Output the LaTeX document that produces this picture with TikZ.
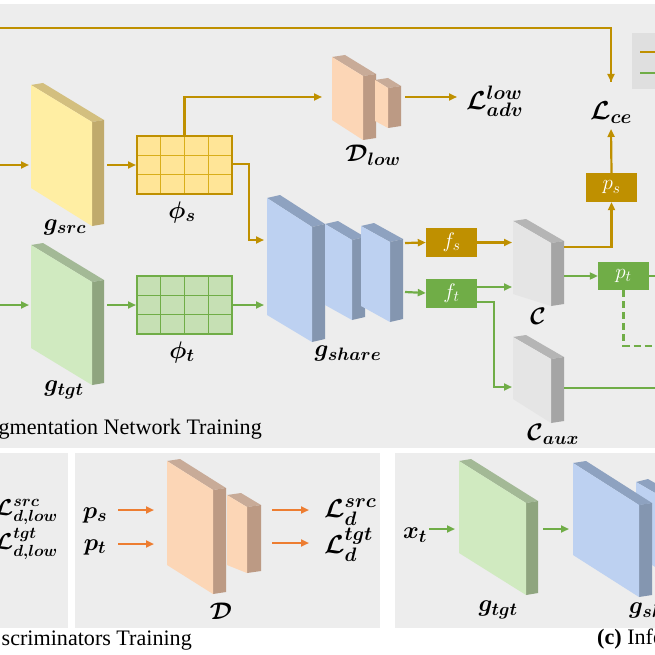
\RequirePackage{fix-cm}
\documentclass[tikz,border=0pt]{standalone}
\usepackage{fontspec}
\setmainfont{Liberation Serif}
\usepackage{amsmath,bm}
\DeclareMathSizes{24}{24}{18}{14}
\DeclareMathSizes{26}{26}{19.5}{15}
\DeclareMathSizes{21}{21}{15.5}{12}
\usetikzlibrary{arrows.meta,calc}
\definecolor{gold}{HTML}{BF9000}
\definecolor{grn}{HTML}{70AD47}
\definecolor{orng}{HTML}{ED7D31}
\definecolor{panel}{HTML}{EDEDED}
\definecolor{legendbg}{HTML}{DFDFDF}
\definecolor{ylwF}{HTML}{FFEEA3}\definecolor{ylwT}{HTML}{D3BF7F}\definecolor{ylwS}{HTML}{C0AA6C}
\definecolor{grnF}{HTML}{D0EAC0}\definecolor{grnT}{HTML}{A3B996}\definecolor{grnS}{HTML}{8FA57F}
\definecolor{bluF}{HTML}{BDD1F1}\definecolor{bluT}{HTML}{8EA2C0}\definecolor{bluS}{HTML}{8496B0}
\definecolor{peaF}{HTML}{FCD6B6}\definecolor{peaT}{HTML}{C8AB98}\definecolor{peaS}{HTML}{BC9A84}
\definecolor{gryF}{HTML}{E5E5E5}\definecolor{gryT}{HTML}{B5B5B5}\definecolor{gryS}{HTML}{A5A5A5}
\definecolor{phisF}{HTML}{FFE597}\definecolor{phisL}{HTML}{D9AE1A}
\definecolor{phitF}{HTML}{C6E0B4}
\newcommand{\myslab}[8]{%
  \fill[#7] (#1) -- ($(#1)+(#5)$) -- ($(#2)+(#5)$) -- (#2) -- cycle;
  \fill[#8] (#2) -- ($(#2)+(#5)$) -- ($(#3)+(#5)$) -- (#3) -- cycle;
  \fill[#6] (#1) -- (#2) -- (#3) -- (#4) -- cycle;}
\tikzset{
  arrtip/.style={-{Triangle[length=8pt,width=7pt]}},
  gl/.style={draw=gold,line width=2.2pt},
  ga/.style={gl,arrtip},
  grl/.style={draw=grn,line width=2.2pt},
  gra/.style={grl,arrtip},
  oa/.style={draw=orng,line width=2.2pt,arrtip},
  lab/.style={inner sep=0pt,font=\fontsize{24}{28}\selectfont},
  biglab/.style={inner sep=0pt,font=\fontsize{26}{30}\selectfont},
  smlab/.style={inner sep=0pt,font=\fontsize{23}{27}\selectfont},
  captxt/.style={inner sep=0pt,font=\fontsize{22.1}{26}\selectfont},
  fbox/.style={inner sep=0pt,minimum width=51pt,minimum height=29pt,text=white,font=\fontsize{21}{24}\selectfont},
  gridbox/.style={inner sep=0pt,minimum width=95pt,minimum height=58pt,line width=2pt,
    path picture={
      \foreach \i in {1,2,3}
        \draw[#1] ($(path picture bounding box.north west)!\i/4!(path picture bounding box.north east)$)
          -- ($(path picture bounding box.south west)!\i/4!(path picture bounding box.south east)$);
      \foreach \j in {1,2}
        \draw[#1] ($(path picture bounding box.north west)!\j/3!(path picture bounding box.south west)$)
          -- ($(path picture bounding box.north east)!\j/3!(path picture bounding box.south east)$);
    }},
}
\begin{document}
\begin{tikzpicture}[x=1pt,y=-1pt]
\clip (0,0) rectangle (655,655);
\fill[white] (0,0) rectangle (655,655);
% panels
\fill[panel] (0,4) rectangle (655,448);
\fill[panel] (0,453) rectangle (68,628);
\fill[panel] (75,453) rectangle (380,628);
\fill[panel] (395,453) rectangle (655,628);
\fill[legendbg] (632,33) rectangle (655,89);
\draw[gl] (640,52) -- (655,52);
\draw[grl] (640,73) -- (655,73);

% ---------- top panel slabs ----------
\myslab{31,85}{92,122}{92,226}{31,188}{12,-2}{ylwF}{ylwT}{ylwS}
\myslab{31,245}{92,282}{92,385}{31,348}{12,-2}{grnF}{grnT}{grnS}
\myslab{267,198}{312,227}{312,342}{267,315}{13,-3}{bluF}{bluT}{bluS}
\myslab{325,224}{352,240}{352,320}{325,305}{13,-3}{bluF}{bluT}{bluS}
\myslab{361,226}{390,242}{390,322}{361,306}{13,-3}{bluF}{bluT}{bluS}
\myslab{332,57}{363,76}{363,140}{332,120}{13,-2}{peaF}{peaT}{peaS}
\myslab{375,80}{388,88}{388,128}{375,121}{13,-2}{peaF}{peaT}{peaS}
\myslab{513,221}{551,243}{551,306}{513,294}{13,-2}{gryF}{gryT}{gryS}
\myslab{513,337}{551,359}{551,423}{513,399}{13,-2}{gryF}{gryT}{gryS}

% grids
\node[gridbox={draw=phisL,line width=1pt},draw=gold,fill=phisF] (phis) at (184.5,165) {};
\node[gridbox={draw=grn,line width=1pt},draw=grn,fill=phitF] (phit) at (184.5,305) {};

% boxes
\node[fbox,fill=gold] (fs) at (451.5,242.5) {$f_s$};
\node[fbox,fill=grn] (ft) at (451.5,293.5) {$f_t$};
\node[fbox,fill=gold] (ps) at (611.5,187.5) {$p_s$};
\node[fbox,fill=grn,minimum height=28pt] (pt) at (623.5,276) {$p_t$};

% labels
\node[lab] (gsrcl) at (65,227) {$\bm{g_{src}}$};
\node[lab] (gtgtl) at (64,390) {$\bm{g_{tgt}}$};
\node[lab] (phisl) at (182,212) {$\bm{\phi_s}$};
\node[lab] (phitl) at (182,352) {$\bm{\phi_t}$};
\node[lab] (gshl) at (348,353) {$\bm{g_{share}}$};
\node[lab] (dlowl) at (373,155) {$\bm{\mathcal{D}_{low}}$};
\node[biglab,anchor=west] (ladv) at (466,101) {$\bm{\mathcal{L}^{low}_{adv}}$};
\node[biglab] (lce) at (611,113) {$\bm{\mathcal{L}_{ce}}$};
\node[lab] (cl) at (538,316) {$\bm{\mathcal{C}}$};
\node[lab] (cauxl) at (553,434) {$\bm{\mathcal{C}_{aux}}$};
\node[captxt,anchor=base east] (capa) at (262,434) {gmentation Network Training};

% coordinates
\coordinate (srcin0) at (0,165);
\coordinate (srcin) at (29,165);
\coordinate (srcout) at (107,165);
\coordinate (tgtin0) at (0,305);
\coordinate (tgtin) at (29,305);
\coordinate (tgtout) at (107,305);
\coordinate (dlowin) at (322,97);
\coordinate (dlowout) at (405,97);
\coordinate (ladvin) at (457,97);
\coordinate (gshin1) at (264,240);
\coordinate (gshin2) at (264,305);
\coordinate (gshout1) at (405,243);
\coordinate (gshout2) at (405,292);
\coordinate (cin1) at (512,242.5);
\coordinate (cin2) at (512,287);
\coordinate (cauxin) at (512,387);
\coordinate (cout1) at (564,247);
\coordinate (cout2) at (564,276);
\coordinate (cauxout) at (564,388);
\coordinate (ptend) at (655,276);
\coordinate (dashend) at (655,346);
\coordinate (cauxend) at (655,388);
\coordinate (top0) at (0,28);
\coordinate (lcein) at (611,82);
\coordinate (lcebot) at (611,129);

% connectors top
\draw[gl] (top0) -| (lcein);
\draw[ga] (611,70) -- (lcein);
\draw[ga] (srcin0) -- (srcin);
\draw[ga] (srcout) -- (phis.west);
\draw[gra] (tgtin0) -- (tgtin);
\draw[gra] (tgtout) -- (phit.west);
\draw[ga] (phis.north) |- (dlowin);
\draw[ga] (dlowout) -- (ladvin);
\draw[ga] ([yshift=1pt]phis.east) -- ++(16,0) |- (gshin1);
\draw[gra] (phit.east) -- (gshin2);
\draw[ga] (gshout1) -- (fs.west);
\draw[gra] (gshout2) -- ([yshift=0.5pt]ft.west);
\draw[ga] (fs.east) -- (cin1);
\draw[gra] ([yshift=6.5pt]ft.east) -- (cin2);
\draw[gra] ([yshift=-8.5pt]ft.east) -- ++(17,0) |- (cauxin);
\draw[ga] (cout1) -| (ps.south);
\draw[ga] (ps.north) -- (lcebot);
\draw[gra] (cout2) -- (pt.west);
\draw[grl] (pt.east) -- (ptend);
\draw[grl,dash pattern=on 7pt off 4pt] (pt.south) |- (dashend);
\draw[grl] (cauxout) -- (cauxend);

% ---------- bottom left panel ----------
\node[smlab,anchor=east] (ldsl) at (58,512) {$\bm{\mathcal{L}^{src}_{d,low}}$};
\node[smlab,anchor=east] (ldtl) at (58,544) {$\bm{\mathcal{L}^{tgt}_{d,low}}$};

% ---------- bottom middle panel ----------
\myslab{167,461}{213,490}{213,594}{167,565}{13,-2}{peaF}{peaT}{peaS}
\myslab{227,495}{247,507}{247,573}{227,565}{14,-2}{peaF}{peaT}{peaS}
\node[lab] (psl) at (95,515) {$\bm{p_s}$};
\node[lab] (ptl) at (95,547) {$\bm{p_t}$};
\coordinate (din1a) at (118,510);\coordinate (din1b) at (154,510);
\coordinate (din2a) at (118,544);\coordinate (din2b) at (154,544);
\coordinate (dout1a) at (272,510);\coordinate (dout1b) at (309,510);
\coordinate (dout2a) at (272,543);\coordinate (dout2b) at (309,543);
\draw[oa] (din1a) -- (din1b);
\draw[oa] (din2a) -- (din2b);
\draw[oa] (dout1a) -- (dout1b);
\draw[oa] (dout2a) -- (dout2b);
\node[biglab,anchor=west] (ldsrc) at (324,512) {$\bm{\mathcal{L}^{src}_{d}}$};
\node[biglab,anchor=west] (ldtgt) at (324,545) {$\bm{\mathcal{L}^{tgt}_{d}}$};
\node[lab] (dl) at (221,611) {$\bm{\mathcal{D}}$};
\node[captxt,anchor=base east] (capb) at (192,645) {scriminators Training};

% ---------- bottom right panel ----------
\myslab{459,461}{526,503}{526,595}{459,553}{12,-2}{grnF}{grnT}{grnS}
\myslab{636,482}{676,505}{676,580}{636,555}{12,-3}{bluF}{bluT}{bluS}
\myslab{573,463}{639,505}{639,597}{573,555}{13,-2}{bluF}{bluT}{bluS}
\node[lab] (xtl) at (415,535) {$\bm{x_t}$};
\coordinate (xa) at (429,529);\coordinate (xb) at (455,529);
\coordinate (ya) at (543,529);\coordinate (yb) at (569,529);
\draw[gra] (xa) -- (xb);
\draw[gra] (ya) -- (yb);
\node[lab] (gtgtc) at (498,610) {$\bm{g_{tgt}}$};
\node[lab,anchor=west] (gshc) at (629,610) {$\bm{g_{share}}$};
\node[captxt,anchor=base west] (capc) at (597,644) {\textbf{(c)} Inference};
\end{tikzpicture}
\end{document}
